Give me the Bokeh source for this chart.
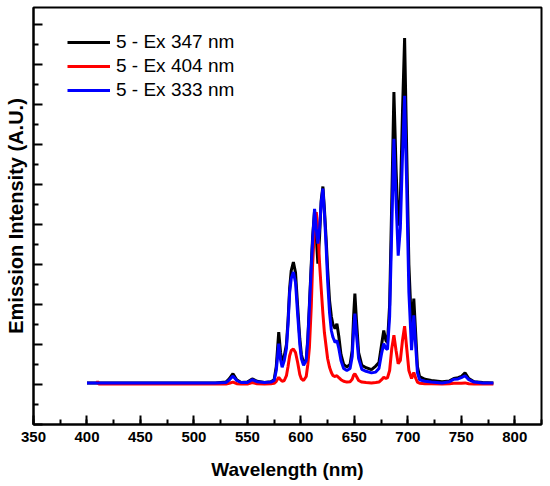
import numpy as np
from bokeh.plotting import figure
from bokeh.models import FixedTicker, CustomJSTickFormatter
from bokeh.embed import file_html
from bokeh.resources import INLINE

# wavelength grid (nm), shared by the three spectra
wavelength = [400, 409, 410, 411, 520, 530, 533, 536.5, 540, 544, 550, 554.5, 559, 566, 572,
              575, 577, 579.3, 581, 582.5, 584.5, 586.5, 588, 589.5, 591, 593, 595, 597, 599,
              600.5, 602.5, 605, 606.5, 608, 609.7, 611, 612.8, 614.4, 615.9, 617.5, 619, 620.6,
              622, 623.7, 625, 626.8, 628.5, 630, 632, 633.7, 635.5, 637.5, 640, 643, 646, 648,
              649.3, 650.5, 652, 654, 657, 661, 666, 670, 673, 675.5, 677.5, 679.5, 681, 683,
              685, 687, 689, 691, 693, 695, 697, 699, 701, 703.5, 705.6, 707.5, 709, 711, 716,
              722, 732, 739, 743, 747, 750, 753.5, 757, 762, 770, 780]

ex347 = [0.04, 0.04, 0.04, 0.04, 0.04, 0.06, 0.14, 0.27, 0.12, 0.05, 0.06, 0.14, 0.08, 0.05, 0.07,
         0.12, 0.45, 1.31, 0.8, 0.56, 0.72, 1.0, 1.6, 2.4, 2.85, 3.06, 2.8, 1.95, 1.15,
         0.75, 0.54, 0.62, 1.15, 2.0, 3.0, 3.7, 4.35, 3.7, 3.02, 3.7, 4.6, 4.95,
         4.4, 3.6, 2.9, 2.1, 1.7, 1.5, 1.4, 1.52, 1.2, 0.75, 0.5, 0.44, 0.5, 0.85,
         1.7, 2.27, 1.6, 0.8, 0.48, 0.42, 0.37, 0.46, 0.55, 1.0, 1.35, 1.1, 1.05, 2.0,
         4.6, 7.31, 5.4, 3.97, 4.6, 6.8, 8.66, 5.8, 3.0, 1.4, 2.15, 1.2, 0.45, 0.2, 0.13,
         0.1, 0.07, 0.09, 0.15, 0.17, 0.2, 0.29, 0.15, 0.07, 0.05, 0.04]

ex404 = [np.nan, 0.01, 0.08, 0.01, 0.01, 0.01, 0.03, 0.06, 0.02, 0.01, 0.01, 0.05, 0.02, 0.01, 0.02,
         0.03, 0.08, 0.18, 0.12, 0.08, 0.1, 0.22, 0.45, 0.72, 0.85, 0.89, 0.8, 0.55, 0.25,
         0.14, 0.1, 0.2, 0.5, 0.93, 1.93, 3.0, 3.95, 4.31, 3.9, 3.02, 2.4, 1.77,
         1.3, 0.93, 0.65, 0.43, 0.3, 0.22, 0.2, 0.22, 0.17, 0.12, 0.08, 0.06, 0.07, 0.13,
         0.23, 0.27, 0.2, 0.1, 0.06, 0.05, 0.04, 0.05, 0.06, 0.12, 0.18, 0.15, 0.17, 0.35,
         0.9, 1.23, 0.85, 0.52, 0.6, 1.1, 1.46, 0.9, 0.35, 0.15, 0.3, 0.15, 0.06, 0.03, 0.02,
         0.02, 0.01, 0.02, 0.03, 0.03, 0.03, 0.04, 0.02, 0.01, 0.01, 0.01]

ex333 = [0.04, 0.04, 0.04, 0.04, 0.04, 0.05, 0.11, 0.21, 0.1, 0.05, 0.05, 0.12, 0.07, 0.05, 0.06,
         0.1, 0.35, 1.02, 0.62, 0.43, 0.6, 0.9, 1.5, 2.3, 2.65, 2.81, 2.55, 1.75, 1.0,
         0.65, 0.48, 0.6, 1.1, 1.93, 2.9, 3.6, 4.39, 3.9, 3.52, 3.9, 4.55, 4.9,
         4.3, 3.4, 2.6, 1.8, 1.35, 1.18, 1.05, 1.1, 0.9, 0.6, 0.4, 0.35, 0.4, 0.7,
         1.35, 1.77, 1.25, 0.65, 0.38, 0.33, 0.29, 0.31, 0.4, 0.78, 1.02, 0.9, 0.88, 1.7,
         3.9, 6.14, 4.6, 3.22, 3.9, 5.7, 7.22, 4.9, 2.3, 0.86, 1.73, 0.9, 0.3, 0.12, 0.08,
         0.06, 0.04, 0.07, 0.13, 0.14, 0.17, 0.22, 0.12, 0.06, 0.04, 0.04]

series_labels = ["5 - Ex 347 nm", "5 - Ex 404 nm", "5 - Ex 333 nm"]
series_colors = ["#000000", "#ff0000", "#0000ff"]

x_major = [350, 400, 450, 500, 550, 600, 650, 700, 750, 800]
x_minor = [375, 425, 475, 525, 575, 625, 675, 725, 775, 825]
y_major = [-1, 0, 1, 2, 3, 4, 5, 6, 7, 8, 9]
y_minor = [-0.5, 0.5, 1.5, 2.5, 3.5, 4.5, 5.5, 6.5, 7.5, 8.5]

FONT = "Liberation Sans"

p = figure(width=543, height=486, x_range=(350, 825), y_range=(-1, 9.425),
           output_backend="svg", toolbar_location=None,
           min_border_left=33, min_border_top=7, min_border_right=2, min_border_bottom=62)
p.background_fill_color = "white"
p.border_fill_color = "white"
p.xgrid.visible = False
p.ygrid.visible = False
p.outline_line_color = "black"
p.outline_line_width = 2
p.outline_line_alpha = 1

x = np.array(wavelength, dtype=float)
for ys, lab, col in zip([ex347, ex404, ex333], series_labels, series_colors):
    p.line(x, np.array(ys, dtype=float), line_color=col, line_width=3, legend_label=lab)

for ax in (p.xaxis[0], p.yaxis[0]):
    ax.axis_line_color = "black"
    ax.axis_line_width = 2
    ax.major_tick_in = 9
    ax.major_tick_out = 0
    ax.minor_tick_in = 5
    ax.minor_tick_out = 0
    ax.major_tick_line_width = 2
    ax.minor_tick_line_width = 2
    ax.major_tick_line_color = "black"
    ax.minor_tick_line_color = "black"
    ax.axis_label_text_font = FONT
    ax.axis_label_text_font_style = "bold"
    ax.axis_label_text_color = "black"

p.xaxis.ticker = FixedTicker(ticks=x_major, minor_ticks=x_minor + x_major)
p.yaxis.ticker = FixedTicker(ticks=y_major, minor_ticks=y_minor)

p.xaxis.axis_label = "Wavelength (nm)"
p.xaxis.axis_label_text_font_size = "19px"
p.xaxis.major_label_text_font = FONT
p.xaxis.major_label_text_font_style = "bold"
p.xaxis.major_label_text_font_size = "15px"
p.xaxis.major_label_text_color = "black"
p.xaxis.major_label_standoff = 7
p.xaxis.axis_label_standoff = 14

p.yaxis.axis_label = "Emission Intensity (A.U.)"
p.yaxis.axis_label_text_font_size = "20px"
p.yaxis.formatter = CustomJSTickFormatter(code="return ''")
p.yaxis.major_label_standoff = 0
p.yaxis.axis_label_standoff = 7

lg = p.legend[0]
lg.location = (34, 322)
lg.border_line_color = None
lg.background_fill_alpha = 0
lg.padding = 0
lg.margin = 0
lg.spacing = 0
lg.glyph_width = 43
lg.glyph_height = 24
lg.label_height = 24
lg.label_standoff = 6
lg.label_text_font = FONT
lg.label_text_font_size = "19px"
lg.label_text_color = "black"

open("out.html", "w").write(file_html(p, INLINE))
